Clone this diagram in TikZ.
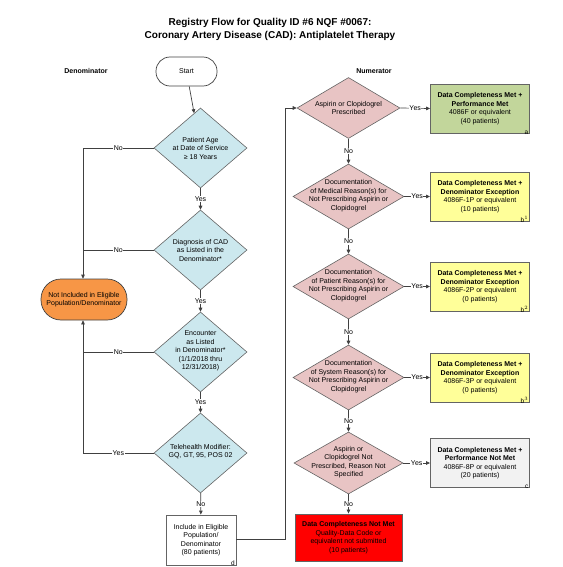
\documentclass[tikz,border=0pt]{standalone}
\usepackage{fontspec}
\setmainfont{Liberation Sans}
\usetikzlibrary{shapes.geometric,arrows.meta}
\definecolor{dblue}{RGB}{204,232,238}
\definecolor{dpink}{RGB}{232,196,196}
\definecolor{bgreen}{RGB}{194,214,155}
\definecolor{byellow}{RGB}{255,255,153}
\definecolor{bgray}{RGB}{242,242,242}
\definecolor{borange}{RGB}{247,150,70}
\definecolor{bred}{RGB}{255,0,0}
\definecolor{linec}{RGB}{64,64,64}
\definecolor{edgec}{RGB}{100,100,100}
\begin{document}
\begin{tikzpicture}[x=1pt,y=-1pt,
  base/.style={font=\fontsize{7}{8.5}\selectfont, align=center, inner sep=0pt},
  dia/.style={shape=diamond, draw=edgec, line width=0.6pt, inner sep=0pt},
  bdia/.style={dia, fill=dblue, minimum width=93pt, minimum height=80pt},
  pdia/.style={dia, fill=dpink, minimum width=111pt, minimum height=65pt},
  dtext/.style={base},
  box/.style={base, draw=edgec, line width=0.9pt, minimum width=99pt, minimum height=49pt},
  term/.style={base, draw=linec, line width=0.7pt},
  conn/.style={draw=linec, line width=0.7pt},
  arr/.style={conn, -{Triangle[length=4pt,width=3.6pt]}},
  lbl/.style={base, fill=white, inner sep=0.6pt},
  corner/.style={base, anchor=south east, font=\fontsize{6.5}{7}\selectfont},
  head/.style={base, font=\fontsize{7}{8.5}\selectfont\bfseries}
]
\useasboundingbox (0,0) rectangle (562,567);

% titles
\node[base, font=\fontsize{10}{13}\selectfont\bfseries] (title) at (270,29.5) {Registry Flow for Quality ID \#6 NQF \#0067:\\Coronary Artery Disease (CAD): Antiplatelet Therapy};
\node[head] (hden) at (86,71) {Denominator};
\node[head] (hnum) at (374,71) {Numerator};

% denominator
\node[term, minimum width=61pt, minimum height=29pt, rounded corners=14pt] (start) at (186.5,71.5) {Start};
\node[bdia] (d1) at (200.5,148) {};
\node[dtext] (d1t) at (d1) {Patient Age\\at Date of Service\\≥ 18 Years};
\node[bdia] (d2) at (200.5,250) {};
\node[dtext] (d2t) at (d2) {Diagnosis of CAD\\as Listed in the\\Denominator*};
\node[bdia] (d3) at (200.5,352) {};
\node[dtext] (d3t) at (200.5,351) {Encounter\\as Listed\\in Denominator*\\(1/1/2018 thru\\12/31/2018)};
\node[bdia] (d4) at (200.5,453) {};
\node[dtext] (d4t) at (200.5,451.5) {Telehealth Modifier:\\GQ, GT, 95, POS 02};
\node[term, fill=borange, minimum width=86pt, minimum height=41pt, rounded corners=20pt] (excl) at (84,299.5) {Not Included in Eligible\\Population/Denominator};
\node[box, fill=white, minimum width=70pt, minimum height=50pt] (incl) at (201,540) {Include in Eligible\\Population/\\Denominator\\(80 patients)};
\node[corner] (cd) at ([xshift=-1.5pt,yshift=-0.5pt]incl.south east) {d};

\draw[arr] (start) -- (d1);
\draw[arr] (d1) -- node[lbl] (y1) {Yes} (d2);
\draw[arr] (d2) -- node[lbl] (y2) {Yes} (d3);
\draw[arr] (d3) -- node[lbl] (y3) {Yes} (d4);
\draw[arr] (d4) -- node[lbl] (n4) {No} (incl);
\coordinate (c1) at (83,148);
\coordinate (c2) at (83,250);
\coordinate (c3) at (83,352);
\coordinate (c4) at (83,453);
\draw[arr] (d1.west) -- node[lbl] (n1) {No} (c1) -- (excl.north -| c1);
\draw[conn] (d2.west) -- node[lbl] (n2) {No} (c2);
\draw[arr] (d3.west) -- node[lbl] (n3) {No} (c3) -- (excl.south -| c3);
\draw[conn] (d4.west) -- node[lbl] (y4) {Yes} (c4) -- (c3);

% numerator
\node[pdia, minimum width=103pt, minimum height=61pt] (p1) at (348.5,108) {};
\node[dtext] (p1t) at (p1) {Aspirin or Clopidogrel\\Prescribed};
\node[pdia] (p2) at (348.5,196.5) {};
\node[dtext] (p2t) at (348.5,195.5) {Documentation\\of Medical Reason(s) for\\Not Prescribing Aspirin or\\Clopidogrel};
\node[pdia] (p3) at (348.5,286.5) {};
\node[dtext] (p3t) at (348.5,285.5) {Documentation\\of Patient Reason(s) for\\Not Prescribing Aspirin or\\Clopidogrel};
\node[pdia] (p4) at (348.5,377.5) {};
\node[dtext] (p4t) at (348.5,376.5) {Documentation\\of System Reason(s) for\\Not Prescribing Aspirin or\\Clopidogrel};
\node[pdia, minimum width=109pt, minimum height=62pt] (p5) at (348.5,463) {};
\node[dtext] (p5t) at (348.5,462) {Aspirin or\\Clopidogrel Not\\Prescribed, Reason Not\\Specified};

\node[box, fill=bgreen] (ba) at (480,108.5) {\bfseries Data Completeness Met +\\\bfseries Performance Met\\4086F or equivalent\\(40 patients)};
\node[corner] (ca) at ([xshift=-1.5pt,yshift=-1pt]ba.south east) {a};
\node[box, fill=byellow] (bb1) at (480,196.5) {\bfseries Data Completeness Met +\\\bfseries Denominator Exception\\4086F-1P or equivalent\\(10 patients)};
\node[corner] (cb1) at ([xshift=-1.5pt,yshift=-1pt]bb1.south east) {b$^{1}$};
\node[box, fill=byellow] (bb2) at (480,286.5) {\bfseries Data Completeness Met +\\\bfseries Denominator Exception\\4086F-2P or equivalent\\(0 patients)};
\node[corner] (cb2) at ([xshift=-1.5pt,yshift=-1pt]bb2.south east) {b$^{2}$};
\node[box, fill=byellow] (bb3) at (480,377.5) {\bfseries Data Completeness Met +\\\bfseries Denominator Exception\\4086F-3P or equivalent\\(0 patients)};
\node[corner] (cb3) at ([xshift=-1.5pt,yshift=-1pt]bb3.south east) {b$^{3}$};
\node[box, fill=bgray] (bc) at (480,463) {\bfseries Data Completeness Met +\\\bfseries Performance Not Met\\4086F-8P or equivalent\\(20 patients)};
\node[corner] (cc) at ([xshift=-1.5pt,yshift=-1pt]bc.south east) {c};
\node[box, fill=bred, minimum width=107pt, minimum height=47pt] (bred) at (348.5,537.5) {\bfseries Data Completeness Not Met\\Quality-Data Code or\\equivalent not submitted\\(10 patients)};

\coordinate (r1) at (285,539);
\coordinate (r2) at (285,108);
\draw[arr] (incl.east |- r1) -- (r1) -- (r2) -- (p1.west);

\draw[arr] (p1.east) -- node[lbl] (ya) {Yes} (ba.west);
\draw[arr] (p2.east) -- node[lbl] (yb1) {Yes} (bb1.west);
\draw[arr] (p3.east) -- node[lbl] (yb2) {Yes} (bb2.west);
\draw[arr] (p4.east) -- node[lbl] (yb3) {Yes} (bb3.west);
\draw[arr] (p5.east) -- node[lbl] (yc) {Yes} (bc.west);
\draw[arr] (p1.south) -- node[lbl] (na) {No} (p2.north);
\draw[arr] (p2.south) -- node[lbl] (nb1) {No} (p3.north);
\draw[arr] (p3.south) -- node[lbl] (nb2) {No} (p4.north);
\draw[arr] (p4.south) -- node[lbl] (nb3) {No} (p5.north);
\draw[arr] (p5.south) -- node[lbl] (nc) {No} (bred.north);
\end{tikzpicture}
\end{document}
